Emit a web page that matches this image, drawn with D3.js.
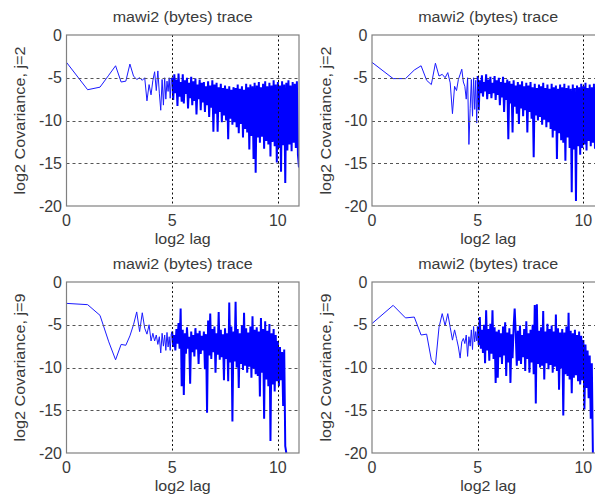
<!DOCTYPE html>
<html><head><meta charset="utf-8">
<script src="https://cdn.jsdelivr.net/npm/d3@7"></script>
<style>
html,body{margin:0;padding:0;background:#fff}
svg{display:block}
text{font-family:"Liberation Sans",Arial,sans-serif;fill:#3a3a3a}
</style></head>
<body><svg id="c" width="595" height="499"></svg>
<script>
// ---- data ----
const titles = ["mawi2 (bytes) trace","mawi2 (bytes) trace","mawi2 (bytes) trace","mawi2 (bytes) trace"];
const yLabels = ["log2 Covariance, j=2","log2 Covariance, j=2","log2 Covariance, j=9","log2 Covariance, j=9"];
const xLabel = "log2 lag";
const xTicks = [0,5,10];
const yTicks = [0,-5,-10,-15,-20];
const xGrid = [5,10];
const yGrid = [-5,-10,-15];

// log2 lag positions of the first lags (1..31)
const sparseLog2Lag = [0,1,1.585,2,2.322,2.585,2.807,3,3.17,3.322,3.459,3.585,3.7,3.807,3.907,4,4.087,4.17,4.248,4.322,4.392,4.459,4.524,4.585,4.644,4.7,4.755,4.807,4.858,4.907,4.954];
// log2 lag positions of the dense part
const denseLog2Lag = [5,5.05,5.1,5.15,5.2,5.25,5.3,5.35,5.4,5.45,
5.5,5.55,5.6,5.65,5.7,5.75,5.8,5.85,5.9,5.95,
6,6.05,6.1,6.15,6.2,6.25,6.3,6.35,6.4,6.45,
6.5,6.55,6.6,6.65,6.7,6.75,6.8,6.85,6.9,6.95,
7,7.05,7.1,7.15,7.2,7.25,7.3,7.35,7.4,7.45,
7.5,7.55,7.6,7.65,7.7,7.75,7.8,7.85,7.9,7.95,
8,8.05,8.1,8.15,8.2,8.25,8.3,8.35,8.4,8.45,
8.5,8.55,8.6,8.65,8.7,8.75,8.8,8.85,8.9,8.95,
9,9.05,9.1,9.15,9.2,9.25,9.3,9.35,9.4,9.45,
9.5,9.55,9.6,9.65,9.7,9.75,9.8,9.85,9.9,9.95,
10,10.05,10.1,10.15,10.2,10.25,10.3,10.35,10.4,10.45,
10.5,10.55,10.6,10.65,10.7,10.75,10.8,10.85,10.9,10.95,
11];

// top-left (j=2)
const covTLsparse = [-3.2,-6.4,-6.1,-4.7,-3.6,-5.5,-5.4,-3.4,-4.8,-5.2,-5.0,-5.3,-5.0,-7.7,-5.8,-7.0,-5.3,-4.3,-6.5,-4.2,-6.8,-8.8,-5.2,-8.2,-5.0,-7.5,-5.4,-6.6,-5.0,-7.4,-5.1];
const covTLdense = [-5.0,-7.6,-4.6,-6.8,-5.2,-8.3,-4.5,-7.2,-5.5,-7.8,
-4.6,-8.0,-5.3,-6.9,-5.0,-8.6,-5.6,-7.4,-4.9,-8.2,
-5.4,-7.7,-5.1,-9.3,-5.8,-7.5,-5.2,-8.8,-5.6,-7.9,
-5.5,-9.0,-6.0,-8.2,-5.4,-9.6,-5.9,-8.5,-5.3,-11.3,
-5.8,-9.2,-5.6,-11.3,-6.1,-9.0,-5.7,-10.2,-6.2,-9.4,
-5.9,-10.0,-6.3,-12.2,-6.0,-9.8,-6.4,-10.5,-6.1,-10.2,
-6.2,-10.8,-5.8,-11.5,-6.3,-10.4,-6.0,-12.0,-6.4,-11.0,
-5.7,-11.4,-6.1,-13.4,-5.8,-11.8,-6.0,-14.5,-5.6,-16.1,
-5.9,-12.0,-5.5,-12.6,-6.1,-11.9,-5.7,-13.3,-5.4,-12.4,
-6.0,-12.8,-5.6,-14.2,-5.9,-12.5,-5.3,-13.0,-5.8,-14.9,
-5.5,-13.2,-5.9,-16.0,-5.4,-12.9,-5.8,-17.3,-5.6,-13.5,
-5.3,-12.8,-5.9,-13.6,-5.5,-12.6,-5.7,-13.2,-5.4,-14.0,
-15.5];

// top-right (j=2)
const covTRsparse = [-3.2,-5.1,-5.1,-4.1,-3.6,-5.3,-5.8,-3.3,-4.8,-4.6,-5.0,-4.4,-5.6,-9.2,-6.0,-6.5,-5.2,-4.6,-4.0,-5.5,-6.0,-7.5,-5.0,-12.8,-8.6,-5.2,-9.5,-5.0,-8.7,-5.3,-10.3];
const covTRdense = [-4.8,-8.8,-5.3,-6.8,-4.7,-7.2,-5.5,-6.6,-4.6,-7.5,
-5.2,-6.9,-4.9,-7.4,-5.6,-6.8,-4.8,-7.6,-5.3,-7.0,
-5.0,-8.2,-5.5,-7.3,-4.9,-9.0,-5.6,-7.6,-5.2,-12.2,
-5.4,-8.0,-5.7,-11.4,-5.3,-8.4,-5.9,-9.2,-5.5,-10.4,
-5.8,-8.6,-5.4,-9.5,-6.0,-8.8,-5.6,-11.4,-5.9,-9.0,
-5.5,-9.8,-6.1,-14.3,-5.7,-9.4,-6.2,-10.0,-5.8,-9.6,
-6.0,-10.5,-5.6,-9.9,-6.2,-10.8,-5.8,-10.2,-6.3,-11.0,
-5.7,-12.0,-6.1,-11.2,-5.9,-14.5,-6.3,-11.5,-5.8,-12.3,
-6.1,-12.6,-5.7,-14.7,-6.2,-12.0,-5.9,-13.2,-6.3,-18.4,
-5.8,-13.4,-6.2,-19.4,-5.9,-13.0,-6.1,-14.0,-5.7,-13.2,
-6.0,-12.8,-5.6,-13.5,-6.2,-12.4,-5.8,-13.0,-6.1,-12.6,
-5.7,-13.3,-6.0,-12.5,-5.8,-13.8,-6.1,-12.9,-5.6,-13.1,
-6.0];

// bottom-left (j=9)
const covBLsparse = [-2.5,-2.65,-3.9,-7.0,-9.1,-7.3,-7.4,-6.3,-5.0,-3.5,-5.8,-3.6,-5.4,-6.1,-5.0,-6.9,-6.0,-6.9,-6.2,-7.3,-6.4,-8.3,-6.0,-7.5,-6.2,-8.0,-5.9,-7.6,-6.4,-8.0,-6.1];
const covBLdense = [-5.8,-7.6,-6.2,-8.0,-5.5,-7.2,-4.8,-7.8,-3.1,-12.2,
-5.6,-13.2,-6.0,-8.4,-5.3,-7.8,-6.4,-11.9,-5.8,-8.2,
-6.2,-8.7,-5.4,-7.9,-6.0,-9.6,-5.7,-8.4,-6.3,-8.0,
-5.8,-10.2,-6.1,-15.3,-4.5,-8.6,-3.7,-9.0,-5.5,-8.2,
-5.2,-10.6,-6.0,-8.5,-3.5,-9.1,-5.6,-8.8,-6.1,-11.5,
-5.4,-9.0,-6.0,-11.6,-2.4,-9.4,-5.2,-16.3,-5.8,-9.3,
-2.3,-10.0,-5.5,-12.4,-6.0,-9.6,-5.1,-10.3,-3.6,-9.8,
-5.4,-10.6,-5.9,-9.9,-5.2,-11.2,-4.0,-10.1,-5.6,-10.8,
-5.3,-11.0,-5.8,-13.4,-4.2,-10.6,-5.5,-16.0,-4.6,-11.4,
-5.7,-12.2,-4.9,-18.6,-6.0,-12.0,-5.5,-12.8,-6.2,-11.6,
-6.9,-12.2,-7.6,-11.5,-8.2,-14.5,-7.9,-19.2,-20.0];

// bottom-right (j=9)
const covBRsparse = [-4.86,-2.73,-4.2,-4.1,-6.2,-6.1,-9.1,-9.7,-5.3,-3.7,-5.1,-3.7,-5.3,-6.8,-5.6,-6.6,-7.6,-8.9,-7.0,-6.6,-7.2,-6.2,-8.7,-6.4,-7.5,-5.6,-7.9,-5.2,-7.0,-5.8,-6.9];
const covBRdense = [-5.2,-7.4,-4.1,-7.8,-5.6,-8.3,-5.0,-9.5,-3.3,-8.0,
-5.5,-9.2,-4.9,-8.4,-3.3,-9.0,-5.3,-11.8,-5.8,-11.2,
-5.6,-8.8,-6.0,-9.6,-5.2,-8.6,-4.7,-11.0,-5.9,-9.4,
-5.4,-11.8,-6.1,-8.9,-5.3,-3.1,-6.0,-9.8,-5.7,-9.2,
-5.1,-9.6,-6.2,-8.8,-5.5,-10.4,-4.6,-9.0,-6.0,-10.6,
-5.6,-9.4,-5.0,-10.8,-2.7,-14.2,-2.6,-9.6,-5.7,-10.0,
-5.3,-9.8,-3.4,-11.4,-5.8,-9.5,-4.9,-10.2,-5.5,-9.7,
-5.1,-10.6,-5.8,-9.9,-3.8,-10.4,-5.4,-12.6,-5.9,-10.1,
-5.5,-15.6,-5.9,-10.8,-5.2,-11.0,-3.6,-11.4,-5.7,-13.0,
-6.0,-11.2,-5.6,-10.9,-6.2,-11.6,-5.8,-12.0,-6.3,-11.5,
-6.8,-14.9,-7.3,-12.4,-8.0,-13.6,-8.6,-16.0,-9.5,-20.0];

// ---- layout ----
const svg = d3.select('#c');
svg.append('rect').attr('width',595).attr('height',499).attr('fill','#fff');
const W = 232.5, H = 171;
const panels = [
  {sparse:covTLsparse, dense:covTLdense, left:66.5, top:35},
  {sparse:covTRsparse, dense:covTRdense, left:372, top:35},
  {sparse:covBLsparse, dense:covBLdense, left:66.5, top:282},
  {sparse:covBRsparse, dense:covBRdense, left:372, top:282}
];

function stext(g, x, y, str, size, anchor, rot, len){
  const t = g.append('text')
    .attr('transform', `translate(${x},${y})` + (rot ? ' rotate(-90)' : ''))
    .attr('text-anchor', anchor)
    .style('font-size', size + 'px')
    .text(str);
  if (len) t.attr('textLength', len).attr('lengthAdjust','spacingAndGlyphs');
  return t;
}

panels.forEach((p, i) => {
  const x = d3.scaleLinear().domain([0, 11]).range([p.left, p.left + W]);
  const y = d3.scaleLinear().domain([-20, 0]).range([p.top + H, p.top]);
  const g = svg.append('g');

  g.append('clipPath').attr('id', 'clip' + i)
    .append('rect').attr('x', p.left).attr('y', p.top - 0.5).attr('width', W).attr('height', H + 1);

  const sparsePts = sparseLog2Lag.map((l, j) => [l, p.sparse[j]]);
  const densePts = p.dense.map((v, j) => [denseLog2Lag[j], v]);

  const line = d3.line().x(d => x(d[0])).y(d => y(d[1]));
  // early lags: thin line
  g.append('path').datum(sparsePts.concat([densePts[0]]))
    .attr('clip-path', `url(#clip${i})`)
    .attr('d', line)
    .attr('fill', 'none')
    .attr('stroke', '#1a1aff')
    .attr('stroke-width', 1)
    .attr('stroke-linejoin', 'bevel');

  // grid (under the dense band)
  g.selectAll('.hg').data(yGrid).enter().append('line')
    .attr('x1', p.left).attr('x2', p.left + W)
    .attr('y1', d => Math.round(y(d)) + 0.5).attr('y2', d => Math.round(y(d)) + 0.5)
    .attr('stroke', '#555').attr('stroke-width', 1).attr('stroke-dasharray', '3,3');

  // dense lags
  g.append('path').datum(densePts)
    .attr('clip-path', `url(#clip${i})`)
    .attr('d', line)
    .attr('fill', 'none')
    .attr('stroke', '#0000ff')
    .attr('stroke-width', 2)
    .attr('stroke-linejoin', 'bevel');

  g.selectAll('.vg').data(xGrid).enter().append('line')
    .attr('x1', d => Math.round(x(d)) + 0.5).attr('x2', d => Math.round(x(d)) + 0.5)
    .attr('y1', p.top).attr('y2', p.top + H)
    .attr('stroke', '#111').attr('stroke-width', 1).attr('stroke-dasharray', '2,2.5');

  // box
  g.append('rect').attr('x', p.left).attr('y', p.top).attr('width', W).attr('height', H)
    .attr('fill', 'none').attr('stroke', '#808080').attr('stroke-width', 1.2);

  // tick labels
  xTicks.forEach(t => stext(g, x(t), p.top + H + 19.5, String(t), 16, 'middle'));
  yTicks.forEach(t => stext(g, p.left - 4.5, y(t) + 5.5, String(t), 16, 'end'));

  // titles and labels
  stext(g, p.left + W / 2, p.top - 13.5, titles[i], 14, 'middle', false, 140);
  stext(g, p.left + W / 2, p.top + H + 38, xLabel, 15, 'middle', false, 56);
  stext(g, p.left - 41.5, p.top + H / 2, yLabels[i], 15, 'middle', true, 148);
});
</script>
</body></html>
